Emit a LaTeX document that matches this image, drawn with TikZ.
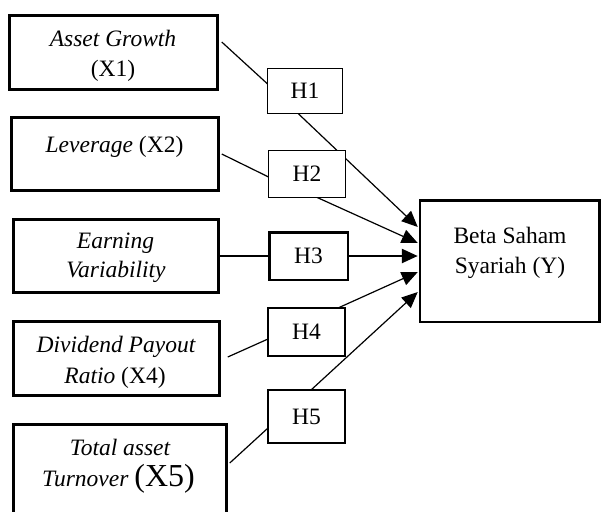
\documentclass[tikz,border=0pt]{standalone}
\usepackage{fontspec}
\setmainfont{Liberation Serif}
\usetikzlibrary{arrows.meta,backgrounds,calc}
\begin{document}
\begin{tikzpicture}[x=1pt,y=-1pt,
  every node/.style={inner sep=0pt,outer sep=0pt},
  varbox/.style={draw,fill=white,line width=2.6pt,rectangle},
  hbox/.style={draw,fill=white,line width=1.2pt,rectangle,font=\fontsize{23.5}{29}\selectfont},
  lbl/.style={anchor=base,font=\fontsize{23.5}{29}\selectfont},
  link/.style={line width=1.2pt},
  thicklink/.style={line width=2.5pt},
  arr/.style={-{Triangle[length=16pt,width=14pt]}}]
\useasboundingbox (0,0) rectangle (601,511);
% variable boxes
\node[varbox,minimum width=208.5pt,minimum height=74.5pt] (b1) at (113.5,52.5) {};
\node[varbox,minimum width=207.5pt,minimum height=73.5pt] (b2) at (115,154) {};
\node[varbox,minimum width=205.5pt,minimum height=73.5pt] (b3) at (116,256) {};
\node[varbox,minimum width=206.5pt,minimum height=74.5pt] (b4) at (116.5,358.5) {};
\node[varbox,minimum width=213.5pt,minimum height=94.5pt] (b5) at (120,471.5) {};
\node[varbox,line width=2.5pt,minimum width=179.5pt,minimum height=121.5pt] (beta) at (509.5,261) {};
% hypothesis boxes
\node[hbox,minimum width=74.8pt,minimum height=44.8pt] (h1) at (305,91) {H1};
\node[hbox,minimum width=76.8pt,minimum height=46.8pt] (h2) at (307,174) {H2};
\node[hbox,line width=2.5pt,minimum width=78.5pt,minimum height=47.5pt] (h3) at (308.5,256) {H3};
\node[hbox,line width=2pt,minimum width=77pt,minimum height=48pt] (h4) at (306.5,332) {H4};
\node[hbox,line width=2pt,minimum width=77pt,minimum height=53pt] (h5) at (306.5,416.5) {H5};
% texts
\node[lbl] (t1a) at (113,47) {\itshape Asset Growth};
\node[lbl] (t1b) at (113,76) {(X1)};
\node[lbl] (t2) at (114.5,152) {\itshape Leverage\/ \upshape(X2)};
\node[lbl] (t3a) at (115.5,248) {\itshape Earning};
\node[lbl] (t3b) at (116,277) {\itshape Variability};
\node[lbl] (t4a) at (116,352) {\itshape Dividend Payout};
\node[lbl] (t4b) at (115,383) {\itshape Ratio\/ \upshape(X4)};
\node[lbl] (t5a) at (120,455) {\itshape Total asset};
\node[lbl] (t5b) at (118.5,486) {\itshape Turnover\/ \upshape\fontsize{32}{36}\selectfont(X5)};
\node[lbl] (ty1) at (510,243) {Beta Saham};
\node[lbl] (ty2) at (510,273) {Syariah (Y)};
% connectors
\begin{pgfonlayer}{background}
\draw[link] ([xshift=4pt,yshift=10.5pt]b1.east) -- ([yshift=7pt]h1.west);
\draw[link] ([xshift=3pt]b2.east) -- ([yshift=-3pt]h2.west);
\draw[thicklink] (b3.east) -- (h3.west);
\draw[link] ([xshift=8pt,yshift=1.5pt]b4.east) -- ([yshift=-7pt]h4.west);
\draw[link] ([xshift=3pt,yshift=8.5pt]b5.east) -- ([yshift=-11.5pt]h5.west);
\draw[link,arr] ([xshift=-7pt]h1.south) -- ([xshift=-2pt,yshift=34pt]beta.west);
\draw[link,arr] ([xshift=10pt]h2.south) -- ([xshift=-2pt,yshift=18pt]beta.west);
\draw[thicklink,arr] (h3.east) -- ([xshift=-2pt]h3.east -| beta.west);
\draw[link,arr] ([xshift=31.5pt]h4.north) -- ([xshift=-2pt,yshift=-11pt]beta.west);
\draw[link,arr] ([xshift=4.5pt]h5.north) -- ([xshift=-2pt,yshift=-31pt]beta.west);
\end{pgfonlayer}
\end{tikzpicture}
\end{document}
